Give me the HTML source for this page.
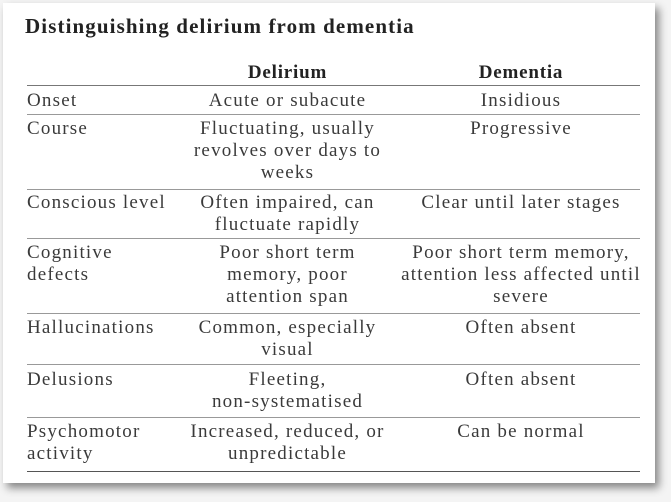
<!DOCTYPE html>
<html><head><style>
body{margin:0;width:671px;height:502px;background:#f4f4f4;position:relative;overflow:hidden;font-family:"Liberation Serif",serif;color:#3a3a3a}
.card{position:absolute;left:3px;top:3px;width:652px;height:480px;background:#fff;box-shadow:4px 5px 8px rgba(0,0,0,0.45)}
.t{position:absolute;font-size:19px;letter-spacing:1.2px;line-height:22px;white-space:nowrap}
.c1{left:180px;width:215px;text-align:center}
.c2{left:395px;width:252px;text-align:center}
.l{left:27px}
.h{position:absolute;left:27px;width:613px;height:1px;background:#999}
</style></head><body>
<div class="card"></div>
<div class="t" style="left:25px;top:15px;font-size:21px;letter-spacing:1.1px;font-weight:bold;color:#222">Distinguishing delirium from dementia</div>
<div class="t c1" style="top:62px;font-weight:bold;color:#222;letter-spacing:0.8px">Delirium</div>
<div class="t c2" style="top:62px;font-weight:bold;color:#222;letter-spacing:0.8px">Dementia</div>
<div class="h" style="top:85px;background:#777"></div>

<div class="t l" style="top:90px">Onset</div>
<div class="t c1" style="top:90px">Acute or subacute</div>
<div class="t c2" style="top:90px">Insidious</div>
<div class="h" style="top:114px"></div>

<div class="t l" style="top:118px">Course</div>
<div class="t c1" style="top:118px">Fluctuating, usually<br>revolves over days to<br>weeks</div>
<div class="t c2" style="top:118px">Progressive</div>
<div class="h" style="top:189px"></div>

<div class="t l" style="top:192px">Conscious level</div>
<div class="t c1" style="top:192px">Often impaired, can<br>fluctuate rapidly</div>
<div class="t c2" style="top:192px">Clear until later stages</div>
<div class="h" style="top:238px"></div>

<div class="t l" style="top:242px">Cognitive<br>defects</div>
<div class="t c1" style="top:242px">Poor short term<br>memory, poor<br>attention span</div>
<div class="t c2" style="top:242px">Poor short term memory,<br>attention less affected until<br>severe</div>
<div class="h" style="top:313px"></div>

<div class="t l" style="top:317px">Hallucinations</div>
<div class="t c1" style="top:317px">Common, especially<br>visual</div>
<div class="t c2" style="top:317px">Often absent</div>
<div class="h" style="top:364px"></div>

<div class="t l" style="top:369px">Delusions</div>
<div class="t c1" style="top:369px">Fleeting,<br>non-systematised</div>
<div class="t c2" style="top:369px">Often absent</div>
<div class="h" style="top:417px"></div>

<div class="t l" style="top:421px">Psychomotor<br>activity</div>
<div class="t c1" style="top:421px">Increased, reduced, or<br>unpredictable</div>
<div class="t c2" style="top:421px">Can be normal</div>
<div class="h" style="top:471px;background:#555"></div>
</body></html>
